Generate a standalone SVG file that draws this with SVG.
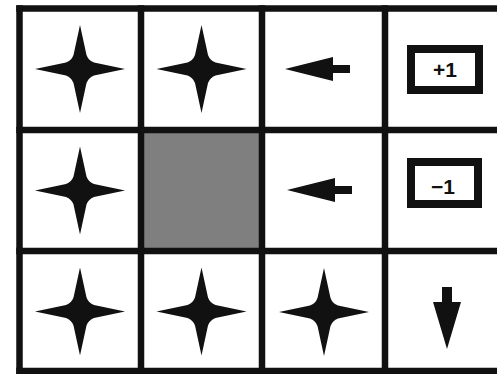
<svg xmlns="http://www.w3.org/2000/svg" width="497" height="374" viewBox="0 0 497 374">
  <defs>
    <style>
      .grid { stroke: #111; stroke-width: 6.5; fill: none; stroke-linecap: square; }
      .ink { fill: #111; }
      .rbox { fill: #fff; stroke: #111; stroke-width: 8; }
      .lbl { font-family: "Liberation Sans", Arial, sans-serif; font-size: 21px; font-weight: bold; fill: #111; text-anchor: middle; }
    </style>
    <path id="star" d="M0,-44 L6.5,-14 Q8.5,-8.5 14,-6.5 L45,0 L14,6.5 Q8.5,8.5 6.5,14 L0,44 L-6.5,14 Q-8.5,8.5 -14,6.5 L-45,0 L-14,-6.5 Q-8.5,-8.5 -6.5,-14 Z"/>
    <path id="left" d="M0,0 L48,-12 L48,-4 L65,-4 L65,4 L48,4 L48,12 Z"/>
  </defs>
  <rect x="0" y="0" width="497" height="374" fill="#fff"/>

  <g id="cell-r1c1"><rect x="141" y="130" width="121" height="121" fill="#7f7f7f"/></g>

  <g id="gridlines">
    <line class="grid" x1="19.5" y1="8.5" x2="497" y2="8.5"/>
    <line class="grid" x1="19.5" y1="130" x2="497" y2="130"/>
    <line class="grid" x1="19.5" y1="251" x2="497" y2="251"/>
    <line class="grid" x1="19.5" y1="371" x2="497" y2="371"/>
    <line class="grid" x1="19.5" y1="8.5" x2="19.5" y2="371"/>
    <line class="grid" x1="141" y1="8.5" x2="141" y2="371"/>
    <line class="grid" x1="262" y1="8.5" x2="262" y2="371"/>
    <line class="grid" x1="385" y1="8.5" x2="385" y2="371"/>
  </g>

  <g id="cell-r0c0"><use href="#star" class="ink" x="80" y="69"/></g>
  <g id="cell-r0c1"><use href="#star" class="ink" x="201.5" y="69"/></g>
  <g id="cell-r0c2"><use href="#left" class="ink" x="285" y="69"/></g>
  <g id="cell-r0c3">
    <rect class="rbox" x="411" y="49" width="68" height="41"/>
    <text class="lbl" x="445" y="77">+1</text>
  </g>

  <g id="cell-r1c0"><use href="#star" class="ink" x="80" y="190.5"/></g>
  <g id="cell-r1c2"><use href="#left" class="ink" x="287" y="190"/></g>
  <g id="cell-r1c3">
    <rect class="rbox" x="411" y="162" width="67" height="42"/>
    <text class="lbl" x="443" y="194">−1</text>
  </g>

  <g id="cell-r2c0"><use href="#star" class="ink" x="80" y="311.5"/></g>
  <g id="cell-r2c1"><use href="#star" class="ink" x="201.5" y="311.5"/></g>
  <g id="cell-r2c2"><use href="#star" class="ink" x="324" y="312"/></g>
  <g id="cell-r2c3"><path class="ink" d="M442,287 L452,287 L452,302 L461,302 L447,349 L433,302 L442,302 Z"/></g>
</svg>
